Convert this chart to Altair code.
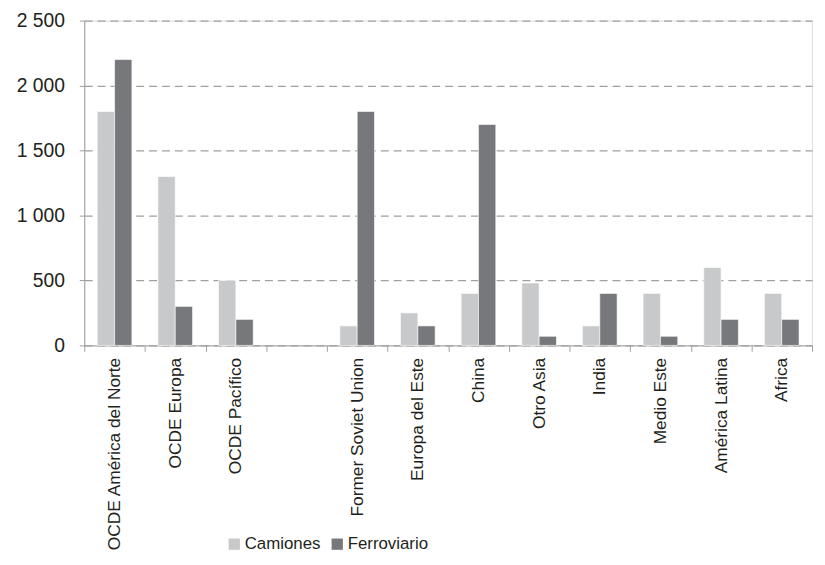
import altair as alt
import pandas as pd

categories = ["OCDE América del Norte", "OCDE Europa", "OCDE Pacífico", " ",
              "Former Soviet Union", "Europa del Este", "China", "Otro Asia",
              "India", "Medio Este", "América Latina", "Africa"]
regions = ["OCDE América del Norte", "OCDE Europa", "OCDE Pacífico",
           "Former Soviet Union", "Europa del Este", "China", "Otro Asia",
           "India", "Medio Este", "América Latina", "Africa"]
camiones = [1800, 1300, 500, 150, 250, 400, 480, 150, 400, 600, 400]
ferroviario = [2200, 300, 200, 1800, 150, 1700, 70, 400, 70, 200, 200]
series = ["Camiones", "Ferroviario"]
colors = ["#c8c9cb", "#77787c"]
y_ticks = [0, 500, 1000, 1500, 2000, 2500]

rows = []
for r, c, f in zip(regions, camiones, ferroviario):
    rows.append({"region": r, "serie": "Camiones", "valor": c})
    rows.append({"region": r, "serie": "Ferroviario", "valor": f})
df = pd.DataFrame(rows)

FONT = "Liberation Sans"

chart = alt.Chart(df).mark_bar(stroke="white", strokeWidth=0.6).encode(
    x=alt.X("region:N", sort=categories,
            scale=alt.Scale(domain=categories, paddingInner=0, paddingOuter=0),
            axis=alt.Axis(title=None, labelAngle=-90, tickBand="extent",
                          labelFontSize=17.5, labelColor="#231f20", labelFont=FONT,
                          domainColor="#a0a0a0", tickColor="#a0a0a0", tickSize=6,
                          labelPadding=6, grid=False, labelLimit=300)),
    xOffset=alt.XOffset("serie:N", scale=alt.Scale(domain=series, paddingInner=0, paddingOuter=0.75)),
    y=alt.Y("valor:Q", scale=alt.Scale(domain=[0, 2500], nice=False),
            axis=alt.Axis(title=None, values=y_ticks,
                          labelExpr="replace(format(datum.value, ','), ',', ' ')",
                          labelFontSize=19.5, labelColor="#231f20", labelFont=FONT,
                          labelPadding=15, domainColor="#a0a0a0", tickColor="#a0a0a0",
                          tickSize=5, grid=True, gridColor="#a0a0a0",
                          gridDash=[8, 5], gridWidth=1.3)),
    color=alt.Color("serie:N", scale=alt.Scale(domain=series, range=colors),
                    legend=alt.Legend(title=None, orient="none", direction="horizontal",
                                      legendX=143, legendY=520, symbolType="square",
                                      symbolSize=130, symbolStrokeWidth=0,
                                      labelFontSize=17, labelFont=FONT,
                                      labelColor="#231f20", columnPadding=8,
                                      labelOffset=2)),
).properties(
    width=735, height=328,
    autosize=alt.AutoSizeParams(type="none"),
    padding={"left": 77, "top": 10, "right": 5, "bottom": 211},
).configure_view(stroke=None).configure(background="white")

chart.save("out.html", embed_options={"renderer": "svg", "actions": False})
